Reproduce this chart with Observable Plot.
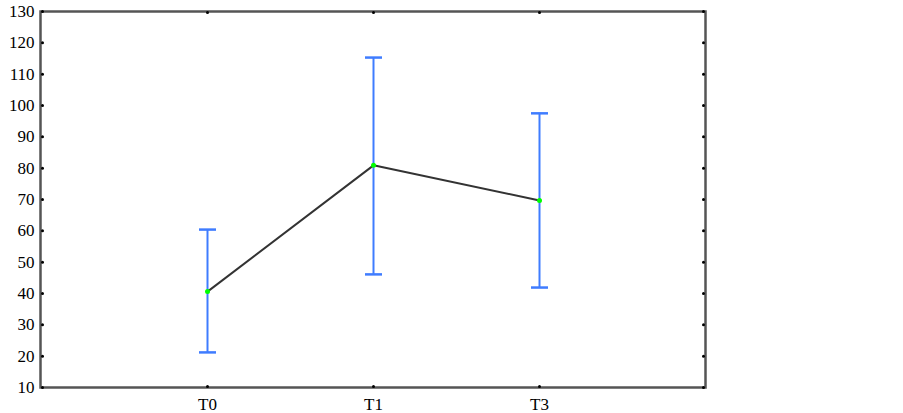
<!DOCTYPE html>
<html>
<head>
<meta charset="utf-8">
<script src="https://cdn.jsdelivr.net/npm/d3@7"></script>
<script src="https://cdn.jsdelivr.net/npm/@observablehq/plot@0.6"></script>
<style>
  html, body { margin: 0; padding: 0; background: #fff; }
  #chart svg text { font-family: 'Liberation Serif', 'Times New Roman', serif !important; font-size: 17px !important; }
</style>
</head>
<body>
<div id="chart"></div>
<script>
const categories = ["T0", "T1", "T3"];
const means = [40.6, 80.9, 69.7];
const lows = [21.2, 46.1, 41.9];
const highs = [60.4, 115.3, 97.5];
const yTicks = [10, 20, 30, 40, 50, 60, 70, 80, 90, 100, 110, 120, 130];

const data = categories.map((c, i) => ({cat: c, mean: means[i], lo: lows[i], hi: highs[i]}));

const blue = "#3f7cff";
const capSymbol = {draw(ctx) { ctx.moveTo(-8.5, 0); ctx.lineTo(8.5, 0); }};

const chart = Plot.plot({
  width: 903,
  height: 413,
  marginLeft: 40,
  marginRight: 198,
  marginTop: 11,
  marginBottom: 26,
  style: {fontFamily: "'Liberation Serif', 'Times New Roman', serif", fontSize: "17px", color: "#000", background: "#fff"},
  x: {type: "point", domain: categories, padding: 1},
  y: {domain: [10, 130]},
  marks: [
    Plot.axisY({ticks: yTicks, tickSize: 0, tickPadding: 6, fontSize: 17, fill: "#000", label: null}),
    Plot.axisX({tickSize: 0, tickPadding: 10, fontSize: 17, fill: "#000", label: null}),
    Plot.ruleX(data, {x: "cat", y1: "lo", y2: "hi", stroke: blue, strokeWidth: 2}),
    Plot.dot(data, {x: "cat", y: "lo", symbol: capSymbol, fill: "none", stroke: blue, strokeWidth: 2.5}),
    Plot.dot(data, {x: "cat", y: "hi", symbol: capSymbol, fill: "none", stroke: blue, strokeWidth: 2.5}),
    Plot.line(data, {x: "cat", y: "mean", stroke: "#333", strokeWidth: 2}),
    Plot.dot(data, {x: "cat", y: "mean", r: 2.5, fill: "#00ff00", stroke: "none"}),
    Plot.frame({stroke: "#555", strokeWidth: 2.5}),
    Plot.dot(yTicks, {y: d => d, frameAnchor: "left", dx: 2, r: 1.5, fill: "#000"}),
    Plot.dot(yTicks, {y: d => d, frameAnchor: "right", dx: -2, r: 1.5, fill: "#000"}),
    Plot.dot(categories, {x: d => d, frameAnchor: "bottom", dy: -1, r: 1.5, fill: "#000"}),
    Plot.dot(categories, {x: d => d, frameAnchor: "top", dy: 1, r: 1.5, fill: "#000"})
  ]
});
document.getElementById("chart").appendChild(chart);
</script>
</body>
</html>
